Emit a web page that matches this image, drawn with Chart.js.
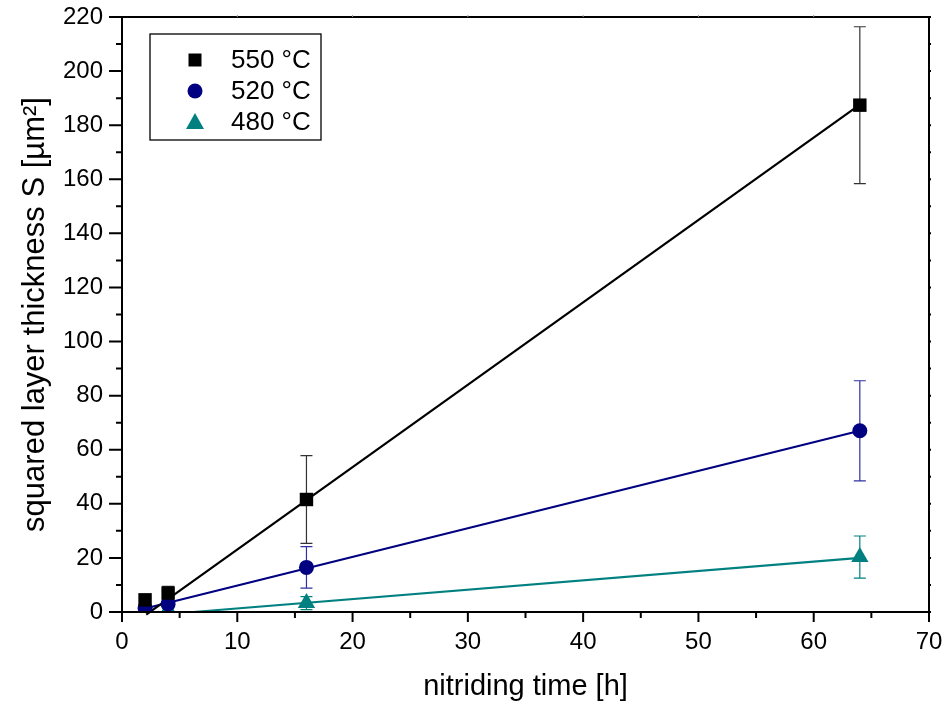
<!DOCTYPE html>
<html>
<head>
<meta charset="utf-8">
<title>Squared layer thickness vs nitriding time</title>
<script src="https://cdn.jsdelivr.net/npm/chart.js@4.4.1/dist/chart.umd.min.js"></script>
<style>
  html, body { margin: 0; padding: 0; background: #fff; }
  #wrap { width: 948px; height: 706px; }
</style>
</head>
<body>
<div id="wrap"><canvas id="layerChart" width="948" height="706"></canvas></div>
<script>
// nitriding times [h]
const times = [2, 4, 16, 64];

// squared layer thickness S [µm²] with error (half-width) per temperature
const s550 = [4.5, 7, 41.6, 187.4];
const err550 = [1, 2.5, 16.2, 29];
const s520 = [1.5, 3, 16.5, 67];
const err520 = [0.8, 1, 7.7, 18.5];
const s480 = [0.5, 0.8, 3.3, 20.3];
const err480 = [0.3, 0.5, 2.4, 7.8];

// linear fit lines, start and end points
const fitX550 = [2.1, 64];
const fitY550 = [-1, 187.6];
const fitX520 = [2, 64];
const fitY520 = [1.3, 67];
const fitX480 = [6.2, 64];
const fitY480 = [0, 20];

const labels = ["550 °C", "520 °C", "480 °C"];
const colors = ["#000000", "#000080", "#008080"];
const errColors = ["#333333", "#3030a0", "#008080"];

const xTicks = [0, 10, 20, 30, 40, 50, 60, 70];
const yTicks = [0, 20, 40, 60, 80, 100, 120, 140, 160, 180, 200, 220];

const FONT = "'Liberation Sans', Arial, sans-serif";

function pts(xs, ys) {
    return xs.map((x, i) => ({ x: x, y: ys[i] }));
}

function markerSet(i, ys, errs, style, radius) {
    return {
        label: labels[i],
        data: pts(times, ys),
        errors: errs,
        showLine: false,
        pointStyle: style,
        pointRadius: radius,
        pointHoverRadius: radius,
        backgroundColor: colors[i],
        borderColor: colors[i],
        borderWidth: 0,
        errColor: errColors[i],
        order: 0
    };
}

function fitSet(i, xs, ys) {
    return {
        label: labels[i] + " fit",
        data: pts(xs, ys),
        showLine: true,
        pointRadius: 0,
        borderColor: colors[i],
        borderWidth: 2.2,
        clip: false,
        order: 1
    };
}

// error bars under the markers
const errorBars = {
    id: "errorBars",
    beforeDatasetsDraw(chart) {
        const { ctx, scales: { x, y } } = chart;
        chart.data.datasets.forEach((ds) => {
            if (!ds.errors) return;
            ctx.save();
            ctx.strokeStyle = ds.errColor;
            ctx.lineWidth = 1.2;
            ds.data.forEach((p, j) => {
                const e = ds.errors[j];
                const px = x.getPixelForValue(p.x);
                const top = y.getPixelForValue(p.y + e);
                const bot = y.getPixelForValue(Math.max(p.y - e, 0));
                ctx.beginPath();
                ctx.moveTo(px, top);
                ctx.lineTo(px, bot);
                ctx.moveTo(px - 6, top);
                ctx.lineTo(px + 6, top);
                if (p.y - e > 0) {
                    ctx.moveTo(px - 6, bot);
                    ctx.lineTo(px + 6, bot);
                }
                ctx.stroke();
            });
            ctx.restore();
        });
    }
};

// box frame with major and minor ticks
const frame = {
    id: "frame",
    afterDatasetsDraw(chart) {
        const { ctx, chartArea: a, scales: { x, y } } = chart;
        ctx.save();
        ctx.strokeStyle = "#000";
        ctx.lineWidth = 2;
        ctx.strokeRect(a.left, a.top, a.right - a.left, a.bottom - a.top);

        ctx.beginPath();
        for (let v = 0; v <= 220; v += 10) {
            const py = y.getPixelForValue(v);
            const len = v % 20 === 0 ? 13 : 6;
            ctx.moveTo(a.left, py);
            ctx.lineTo(a.left - len, py);
            ctx.moveTo(a.right, py);
            ctx.lineTo(a.right + 2, py);
        }
        for (let v = 0; v <= 70; v += 5) {
            const px = x.getPixelForValue(v);
            const len = v % 10 === 0 ? 10 : 6;
            ctx.moveTo(px, a.bottom);
            ctx.lineTo(px, a.bottom + len);
        }
        ctx.stroke();

        ctx.strokeStyle = "#999";
        ctx.lineWidth = 1;
        ctx.beginPath();
        for (let v = 10; v < 70; v += 10) {
            const px = x.getPixelForValue(v);
            ctx.moveTo(px, a.top);
            ctx.lineTo(px, a.top - 2);
        }
        ctx.stroke();
        ctx.restore();
    }
};

// boxed legend in the upper left corner of the plot
const boxLegend = {
    id: "boxLegend",
    afterDraw(chart) {
        const { ctx } = chart;
        ctx.save();
        ctx.fillStyle = "#fff";
        ctx.fillRect(150, 34, 171, 106);
        ctx.strokeStyle = "#000";
        ctx.lineWidth = 1.3;
        ctx.strokeRect(150, 34, 171, 106);
        const rows = [60, 91, 122];
        const markers = chart.data.datasets.filter((d) => d.errors);
        markers.forEach((ds, i) => {
            const cx = 195, cy = rows[i];
            ctx.fillStyle = ds.backgroundColor;
            ctx.beginPath();
            if (ds.pointStyle === "rect") {
                ctx.rect(cx - 6.5, cy - 6.5, 13, 13);
            } else if (ds.pointStyle === "circle") {
                ctx.arc(cx, cy, 7.5, 0, Math.PI * 2);
            } else {
                ctx.moveTo(cx, cy - 9);
                ctx.lineTo(cx + 9, cy + 7);
                ctx.lineTo(cx - 9, cy + 7);
                ctx.closePath();
            }
            ctx.fill();
            ctx.fillStyle = "#000";
            ctx.font = "26px " + FONT;
            ctx.textBaseline = "middle";
            ctx.fillText(ds.label, 231, cy + 1);
        });
        ctx.restore();
    }
};

new Chart(document.getElementById("layerChart"), {
    type: "scatter",
    data: {
        datasets: [
            markerSet(0, s550, err550, "rect", 9.5),
            markerSet(1, s520, err520, "circle", 7.5),
            markerSet(2, s480, err480, "triangle", 10),
            fitSet(0, fitX550, fitY550),
            fitSet(1, fitX520, fitY520),
            fitSet(2, fitX480, fitY480)
        ]
    },
    options: {
        responsive: false,
        animation: false,
        layout: { padding: { top: 17, right: 19, left: 0, bottom: 0 } },
        plugins: {
            legend: { display: false },
            tooltip: { enabled: false }
        },
        scales: {
            x: {
                type: "linear",
                min: 0,
                max: 70,
                afterBuildTicks(s) { s.ticks = xTicks.map((v) => ({ value: v })); },
                afterFit(s) {
                    s.height = 94;
                    s.paddingLeft = 0;
                    s.paddingRight = 0;
                },
                grid: { display: false, drawTicks: false },
                border: { display: false },
                ticks: { color: "#000", padding: 16, font: { size: 24, family: FONT } },
                title: {
                    display: true,
                    text: "nitriding time [h]",
                    color: "#000",
                    font: { size: 29, family: FONT },
                    padding: { top: 0, bottom: 2 }
                }
            },
            y: {
                type: "linear",
                min: 0,
                max: 220,
                afterBuildTicks(s) { s.ticks = yTicks.map((v) => ({ value: v })); },
                afterFit(s) {
                    s.width = 122;
                    s.paddingTop = 0;
                    s.paddingBottom = 0;
                },
                grid: { display: false, drawTicks: false },
                border: { display: false },
                ticks: { color: "#000", padding: 19, font: { size: 24, family: FONT } },
                title: {
                    display: true,
                    text: "squared layer thickness S [µm²]",
                    color: "#000",
                    font: { size: 31, family: FONT },
                    padding: { top: 17, bottom: 0 }
                }
            }
        }
    },
    plugins: [errorBars, frame, boxLegend]
});
</script>
</body>
</html>
